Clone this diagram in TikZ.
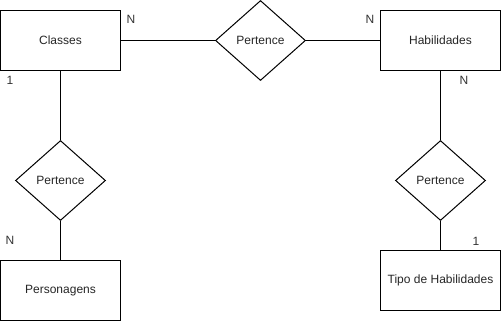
\documentclass[tikz,border=0pt]{standalone}
\usepackage{fontspec}
\setmainfont{Liberation Sans}
\usepackage{tikz}
\usetikzlibrary{shapes.geometric}

\tikzset{
	entidade/.style={draw,line width=0.75pt,minimum width=90pt,minimum height=45pt,inner sep=0pt,text=black!85},
	relacao/.style={draw,diamond,aspect=1.125,line width=0.75pt,minimum width=67.5pt,minimum height=60pt,inner sep=0pt,text=black!85},
	card/.style={text=black!80,inner sep=0pt,font=\fontsize{9}{10}\selectfont},
	liga/.style={line width=0.75pt}
}

\begin{document}
\begin{tikzpicture}[x=0.75pt,y=-0.75pt,font=\fontsize{9}{10}\selectfont]
	%
	% Cadre
	\path[use as bounding box,fill=white] (0,0) rectangle (501,321);
	%
	% Entidades
	\node[entidade] (classes) at (60.5,40.5) {Classes};
	\node[entidade] (habilidades) at (440.5,40.5) {Habilidades};
	\node[entidade] (personagens) at (60.5,290.5) {Personagens};
	\node[entidade] (tipo) at (440.5,280.5) {Tipo de Habilidades};
	%
	% Relacionamentos
	\node[relacao] (pertenceA) at (260.5,40.5) {Pertence};
	\node[relacao] (pertenceB) at (60.5,180.5) {Pertence};
	\node[relacao] (pertenceC) at (440.5,180.5) {Pertence};
	%
	% Ligacoes
	\draw[liga] (classes) -- (pertenceA) -- (habilidades);
	\draw[liga] (classes) -- (pertenceB) -- (personagens);
	\draw[liga] (habilidades) -- (pertenceC) -- (tipo);
	%
	% Cardinalidades
	\node[card] at (131,19) {N};
	\node[card] at (370,19) {N};
	\node[card] at (10,80) {1};
	\node[card] at (464,80) {N};
	\node[card] at (10,240) {N};
	\node[card] at (476,241) {1};
\end{tikzpicture}
\end{document}
